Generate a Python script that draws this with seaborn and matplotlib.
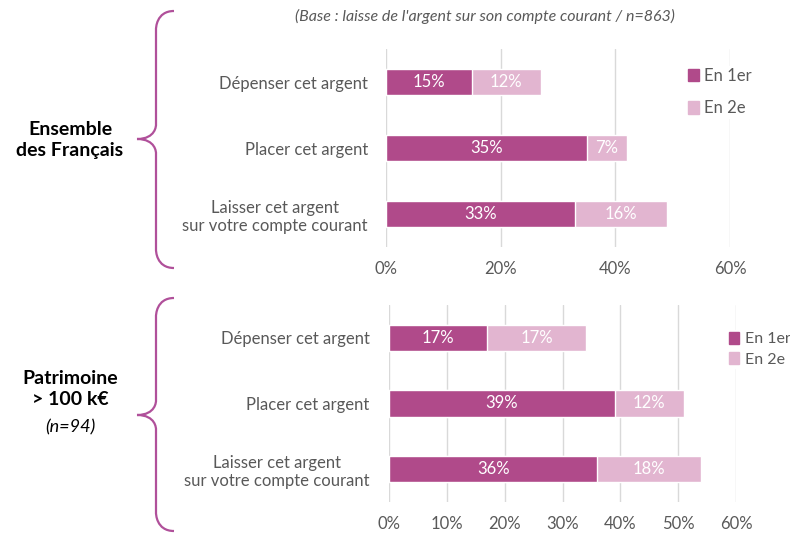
import pandas as pd
import seaborn as sns
import matplotlib.pyplot as plt
from matplotlib.patches import Patch
from matplotlib.path import Path
from matplotlib.patches import PathPatch

# Data
categories = ["Dépenser cet argent", "Placer cet argent",
              "Laisser cet argent\nsur votre compte courant"]
ens_1er = [15, 35, 33]
ens_2e = [12, 7, 16]
pat_1er = [17, 39, 36]
pat_2e = [17, 12, 18]
series_names = ["En 1er", "En 2e"]

dark = "#B04A8A"
light = "#E2B5D0"
grey = "#595959"
brace_col = "#B0509A"

sns.set_theme(style="white")
plt.rcParams['font.family'] = ['Lato', 'DejaVu Sans']

fig = plt.figure(figsize=(7.9, 5.34), dpi=100)


def stacked(ax, first, second, step, legend_anchor, spacing, ypad, legsize):
    df = pd.DataFrame({"cat": categories, "first": first,
                       "total": [a + b for a, b in zip(first, second)]})
    sns.barplot(data=df, y="cat", x="total", color=light, width=0.4,
                saturation=1, ax=ax, orient="h")
    sns.barplot(data=df, y="cat", x="first", color=dark, width=0.4,
                saturation=1, ax=ax, orient="h")
    for i, (a, b) in enumerate(zip(first, second)):
        ax.text(a / 2, i, f"{a}%", color="white", ha="center", va="center", fontsize=12)
        ax.text(a + b / 2, i, f"{b}%", color="white", ha="center", va="center", fontsize=12)
    ax.set_xlim(0, 60)
    ax.set_ylim(2.5, -0.5)
    ax.set_xticks(range(0, 61, step))
    ax.set_xticklabels([f"{t}%" for t in range(0, 61, step)])
    ax.grid(axis="x", color="#D9D9D9", linewidth=1)
    ax.set_axisbelow(True)
    for s in ax.spines.values():
        s.set_visible(False)
    ax.set_xlabel("")
    ax.set_ylabel("")
    ax.tick_params(axis="both", length=0, labelsize=12, colors=grey, pad=10)
    ax.tick_params(axis="y", pad=ypad)
    for lab in ax.get_yticklabels():
        lab.set_multialignment("center")
    handles = [Patch(color=dark), Patch(color=light)]
    ax.legend(handles, series_names, loc="upper left", bbox_to_anchor=legend_anchor,
              bbox_transform=fig.transFigure, frameon=True, edgecolor="white",
              framealpha=1, fontsize=legsize, handlelength=0.65, handleheight=0.8,
              handletextpad=0.35, labelspacing=spacing, borderpad=0.1,
              borderaxespad=0, labelcolor=grey)


ax1 = fig.add_axes([386 / 790, 1 - 247 / 534, 344 / 790, 198 / 534])
stacked(ax1, ens_1er, ens_2e, 20, (686 / 790, 1 - 66 / 534), 1.0, 13, 12)
ax2 = fig.add_axes([389 / 790, 1 - 502 / 534, 347 / 790, 197 / 534])
stacked(ax2, pat_1er, pat_2e, 10, (727 / 790, 1 - 330 / 534), 0.35, 14, 11.5)

# overlay for braces and group labels
ov = fig.add_axes([0, 0, 1, 1])
ov.set_xlim(0, 790)
ov.set_ylim(534, 0)
ov.axis("off")


def brace(y0, ytip, y1):
    xr, xv, xt = 174, 156, 137
    verts = [(xr, y0), (xv, y0), (xv, y0 + 18), (xv, y0 + 18),
             (xv, ytip - 14), (xv, ytip - 14), (xv, ytip), (xt, ytip),
             (xv, ytip), (xv, ytip + 14), (xv, ytip + 14),
             (xv, y1 - 18), (xv, y1 - 18), (xv, y1), (xr, y1)]
    codes = [Path.MOVETO, Path.CURVE4, Path.CURVE4, Path.CURVE4,
             Path.LINETO, Path.CURVE4, Path.CURVE4, Path.CURVE4,
             Path.CURVE4, Path.CURVE4, Path.CURVE4,
             Path.LINETO, Path.CURVE4, Path.CURVE4, Path.CURVE4]
    ov.add_patch(PathPatch(Path(verts, codes), fill=False, edgecolor=brace_col, lw=1.6))


brace(11, 139, 268)
brace(298, 415, 531)

ov.text(70, 140, "Ensemble\ndes Français", ha="center", va="center",
        fontsize=14, fontweight="bold", color="black", linespacing=1.25)
ov.text(70, 389, "Patrimoine\n> 100 k€", ha="center", va="center",
        fontsize=14, fontweight="bold", color="black", linespacing=1.25)
ov.text(70, 427, "(n=94)", ha="center", va="center", fontsize=13,
        style="italic", color="black")
ov.text(485, 16, "(Base : laisse de l'argent sur son compte courant / n=863)",
        ha="center", va="center", fontsize=11.5, style="italic", color=grey)

fig.savefig("out.png", dpi=100)
